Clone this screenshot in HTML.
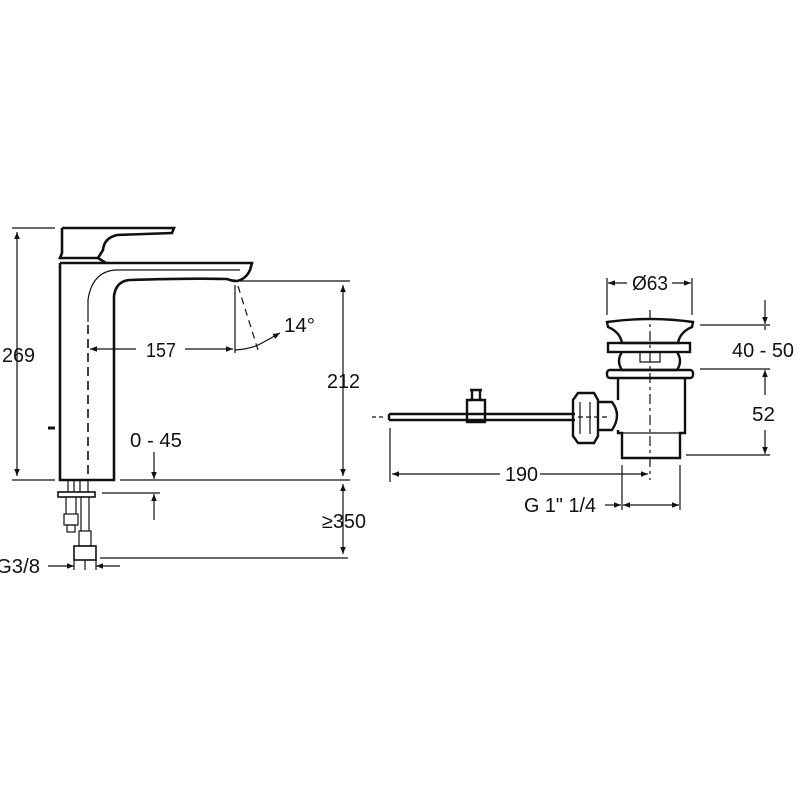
<!DOCTYPE html>
<html><head><meta charset="utf-8"><style>
html,body{margin:0;padding:0;background:#fff;}
svg{display:block;}
text{font-family:"Liberation Sans",sans-serif;font-size:20px;fill:#111;}
</style></head><body>
<svg width="800" height="800" viewBox="0 0 800 800" xmlns="http://www.w3.org/2000/svg">
<defs>
<marker id="a" viewBox="0 0 10 10" refX="10" refY="5" markerWidth="10" markerHeight="7" orient="auto-start-reverse" markerUnits="userSpaceOnUse"><path d="M0,1 L10,5 L0,9 z" fill="#111"/></marker>
</defs>
<g fill="none" stroke="#111" stroke-width="1.2">
<!-- faucet outline -->
<g stroke-width="2.6">
<path d="M62,228 L174,228 L172,233 L117,235 Q104,238 103,250 L98,258 L106,263"/>
<path d="M62,228 L62,253 L60,258 L98,258"/>
<path d="M60,263 L252,263 L250,270 Q246,279 237,281 Q232,281 227,279 Q190,278 130,280 Q116,281 114,296 L114,480 L60,480 L60,263"/>
</g>
<path d="M240,270 L115,270 Q92,272 88,300 L88,322"/>
<path d="M88,325 L88,480" stroke-dasharray="9,5" stroke-width="1.6"/>
<path d="M55,428 L48,428" stroke-width="3"/>
<!-- pipes -->
<rect x="58" y="492" width="37" height="5" stroke-width="1.6"/>
<path d="M68,480 V492 M74,480 V492 M80,480 V492 M88,480 V492" />
<path d="M66,497 V514 M76,497 V514 M81,497 V531 M89,497 V531"/>
<rect x="64" y="514" width="14" height="11"/><rect x="67" y="525" width="8" height="7"/>
<rect x="79" y="531" width="12" height="15"/>
<rect x="74" y="546" width="22" height="14" stroke-width="1.6"/>
<!-- spout angle lines -->
<path d="M235,285 L235,353"/>
<path d="M238,286 L258,350" stroke-dasharray="7,5"/>
<path d="M235,350 Q252,349 262,343 L280,333" marker-end="url(#a)"/>
<!-- dims left -->
<path d="M12,228 H55 M12,480 H55"/>
<path d="M17,232 V476" marker-start="url(#a)" marker-end="url(#a)"/>
<path d="M90,349 H136" marker-start="url(#a)"/>
<path d="M185,349 H233" marker-end="url(#a)"/>
<path d="M240,281 H350"/>
<path d="M120,480 H350"/>
<path d="M343,285 V476" marker-start="url(#a)" marker-end="url(#a)"/>
<path d="M343,484 V554" marker-start="url(#a)" marker-end="url(#a)"/>
<path d="M100,558 H348"/>
<path d="M102,493 H160"/>
<path d="M154,452 V479" marker-end="url(#a)"/>
<path d="M154,520 V494" marker-end="url(#a)"/>
<path d="M48,566 H74" marker-end="url(#a)"/>
<path d="M120,566 H96" marker-end="url(#a)"/>
<path d="M74,560 V570 M85,560 V570 M96,560 V570"/>
<!-- drain -->
<g stroke-width="2.4">
<path d="M607,322 Q650,316 693,322 L692,327 Q680,332 678,343 L622,343 Q620,332 608,327 Z"/>
<rect x="608" y="343" width="82" height="9"/>
<path d="M622,352 Q616,361 622,370 L677,370 Q683,361 677,352"/>
<rect x="607" y="370" width="86" height="8" rx="3"/>
<path d="M618,378 V400 M618,430 V433 L622,433 V458 L680,458 V433 L685,433 V378"/>
<path d="M598,402 L612,402 Q622,415 612,430 L598,430"/>
<path d="M578,393 L594,393 L598,400 L598,436 L594,443 L578,443 L573,436 L573,400 Z"/>
<path d="M389,414 H575 M389,420 H575 M389,414 V420"/>
<path d="M470,390 H482 M472,390 V400 M480,390 V400 M467,400 H485 V422 H467 Z"/>
</g>
<path d="M622,433 H680 M640,352 V362 H660 V352 M580,402 V434 M590,402 V434"/>
<path d="M650,310 V480" stroke-dasharray="10,4,3,4"/>
<path d="M372,417 H386" stroke-dasharray="4,3"/>
<path d="M578,417 H610" stroke-dasharray="5,3"/>
<!-- drain dims -->
<path d="M607,278 V315 M692,278 V315"/>
<path d="M627,283 H608" marker-end="url(#a)"/>
<path d="M672,283 H691" marker-end="url(#a)"/>
<path d="M700,325 H770 M700,369 H770 M686,455 H770"/>
<path d="M765,300 V324" marker-end="url(#a)"/>
<path d="M765,370 V395" marker-start="url(#a)"/>
<path d="M765,430 V454" marker-end="url(#a)"/>
<path d="M765,326 V330"/>
<path d="M390,428 V482 M622,465 V510 M680,465 V510"/>
<path d="M392,474 H500" marker-start="url(#a)"/>
<path d="M540,474 H648" marker-end="url(#a)"/>
<path d="M605,505 H621" marker-end="url(#a)"/>
<path d="M623,505 H679" marker-start="url(#a)" marker-end="url(#a)"/>
</g>
<text x="2" y="362" textLength="33" lengthAdjust="spacingAndGlyphs">269</text>
<text x="146" y="357" textLength="30" lengthAdjust="spacingAndGlyphs">157</text>
<text x="284" y="332" textLength="31" lengthAdjust="spacingAndGlyphs">14°</text>
<text x="327" y="388" textLength="33" lengthAdjust="spacingAndGlyphs">212</text>
<text x="130" y="447" textLength="52" lengthAdjust="spacingAndGlyphs">0 - 45</text>
<text x="322" y="528" textLength="44" lengthAdjust="spacingAndGlyphs">≥350</text>
<text x="-4" y="573" textLength="44" lengthAdjust="spacingAndGlyphs">G3/8</text>
<text x="632" y="290" textLength="36" lengthAdjust="spacingAndGlyphs">Ø63</text>
<text x="732" y="357" textLength="62" lengthAdjust="spacingAndGlyphs">40 - 50</text>
<text x="752" y="421" textLength="23" lengthAdjust="spacingAndGlyphs">52</text>
<text x="505" y="481" textLength="33" lengthAdjust="spacingAndGlyphs">190</text>
<text x="524" y="512" textLength="72" lengthAdjust="spacingAndGlyphs">G 1" 1/4</text>
</svg>
</body></html>
